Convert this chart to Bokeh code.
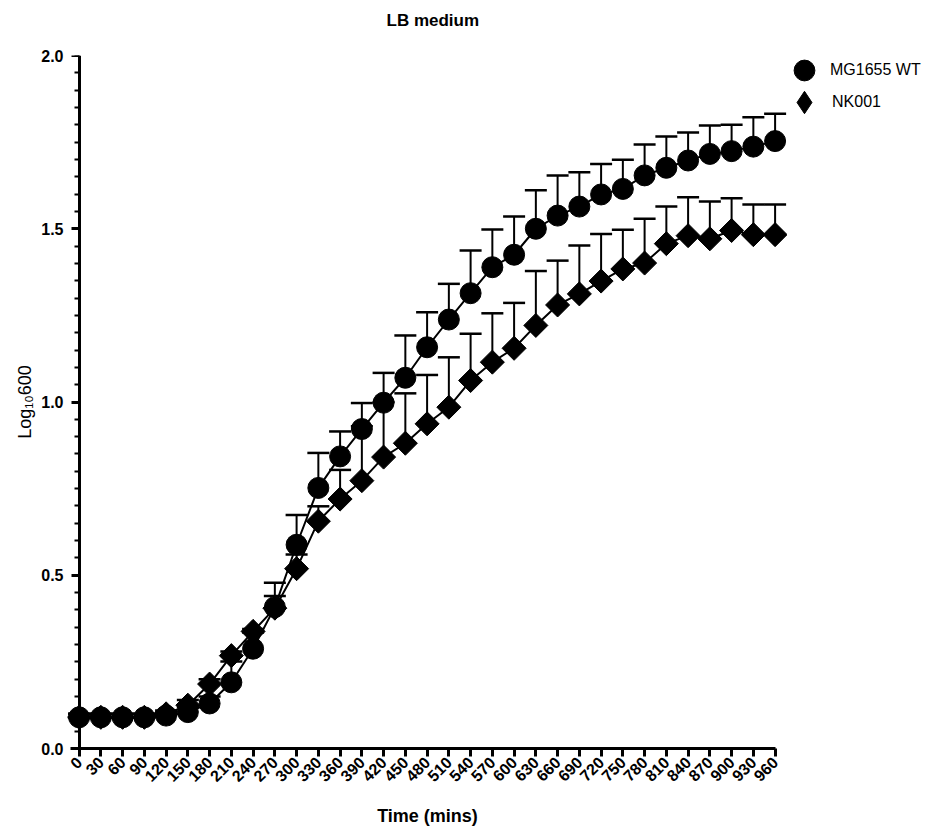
import math
from bokeh.plotting import figure
from bokeh.layouts import row
from bokeh.models import (Legend, LegendItem, FixedTicker, SingleIntervalTicker,
                          PrintfTickFormatter, LinearAxis, CustomJSTickFormatter)
from bokeh.embed import file_html
from bokeh.resources import INLINE

# ---- data ----
time_min = list(range(0, 961, 30))
wt_name = "MG1655 WT"
nk_name = "NK001"
wt_mean = [0.090, 0.090, 0.090, 0.090, 0.095, 0.105, 0.130, 0.191, 0.288, 0.408,
           0.588, 0.752, 0.843, 0.922, 0.998, 1.070, 1.158, 1.238, 1.314, 1.389,
           1.425, 1.500, 1.538, 1.564, 1.599, 1.615, 1.654, 1.676, 1.697, 1.716,
           1.724, 1.737, 1.753]
wt_sd = [0.010, 0.010, 0.010, 0.010, 0.010, 0.015, 0.020, 0.060, 0.047, 0.070,
         0.086, 0.101, 0.072, 0.075, 0.086, 0.122, 0.101, 0.103, 0.123, 0.109,
         0.110, 0.111, 0.116, 0.099, 0.088, 0.084, 0.089, 0.090, 0.081, 0.082,
         0.076, 0.085, 0.079]
nk_mean = [0.090, 0.090, 0.090, 0.090, 0.100, 0.125, 0.186, 0.268, 0.338, 0.405,
           0.519, 0.656, 0.720, 0.773, 0.841, 0.881, 0.937, 0.985, 1.062, 1.115,
           1.155, 1.221, 1.280, 1.312, 1.349, 1.384, 1.401, 1.457, 1.480, 1.471,
           1.495, 1.483, 1.483]
nk_sd = [0.010, 0.010, 0.010, 0.010, 0.010, 0.015, 0.014, 0.012, 0.007, 0.035,
         0.041, 0.043, 0.084, 0.157, 0.159, 0.144, 0.141, 0.144, 0.135, 0.141,
         0.131, 0.157, 0.128, 0.140, 0.136, 0.113, 0.128, 0.107, 0.111, 0.108,
         0.093, 0.087, 0.087]
title_text = "LB medium"
x_label = "Time (mins)"
y_label = "Log\u2081\u2080600"
x_tick_values = time_min
y_tick_interval = 0.5
y_axis_max = 2.0
x_axis_max = 960

FONT = "Liberation Sans"
FRAME_H = 693
TOP, BOTTOM = 55, 86

# ---------------- main plot ----------------
p = figure(frame_width=720, frame_height=FRAME_H, output_backend="svg",
           toolbar_location=None,
           x_range=(-16, 977.1), y_range=(0, y_axis_max),
           min_border_left=67, min_border_right=0, min_border_top=TOP,
           min_border_bottom=BOTTOM)

# title: trailing empty line lifts the visible line higher in the top border
p.title.text = title_text + "\n"
p.title.align = "left"
p.title.offset = 319
p.title.standoff = 14
p.title.text_font = FONT
p.title.text_font_size = "17px"
p.title.text_font_style = "bold"
p.title.text_color = "black"

p.xgrid.visible = False
p.ygrid.visible = False
p.outline_line_color = None
p.background_fill_color = "white"
p.border_fill_color = "white"

# ---- x axis ----
xa = p.xaxis[0]
xa.ticker = FixedTicker(ticks=x_tick_values, minor_ticks=[])
xa.bounds = (-12, x_axis_max)
xa.axis_line_width = 3
xa.axis_line_color = "black"
xa.major_tick_line_width = 3
xa.major_tick_line_color = "black"
xa.major_tick_out = 8
xa.major_tick_in = 0
xa.major_label_orientation = math.pi / 4
xa.major_label_text_font = FONT
xa.major_label_text_font_style = "bold"
xa.major_label_text_font_size = "16px"
xa.major_label_text_color = "black"
xa.major_label_standoff = 3
xa.axis_label = x_label
xa.axis_label_text_font = FONT
xa.axis_label_text_font_size = "18px"
xa.axis_label_text_font_style = "bold"
xa.axis_label_text_color = "black"
xa.axis_label_standoff = 16

# ---- y axis: labels beside the frame edge ----
ya = p.yaxis[0]
ya.ticker = SingleIntervalTicker(interval=y_tick_interval, num_minor_ticks=10)
ya.formatter = PrintfTickFormatter(format="%.1f")
ya.bounds = (0, y_axis_max)
ya.axis_line_color = None
ya.major_tick_line_color = None
ya.minor_tick_line_color = None
ya.major_tick_out = 0
ya.major_tick_in = 0
ya.minor_tick_out = 0
ya.minor_tick_in = 0
ya.major_label_text_font = FONT
ya.major_label_text_font_style = "bold"
ya.major_label_text_font_size = "16px"
ya.major_label_text_color = "black"
ya.major_label_standoff = 4
ya.axis_label = y_label
ya.axis_label_text_font = FONT
ya.axis_label_text_font_size = "18px"
ya.axis_label_text_font_style = "normal"
ya.axis_label_text_color = "black"
ya.axis_label_standoff = 3

# ---- y axis line and ticks drawn at x = 0 ----
ya2 = LinearAxis(fixed_location=0,
                 ticker=SingleIntervalTicker(interval=y_tick_interval, num_minor_ticks=10),
                 formatter=CustomJSTickFormatter(code="return ''"))
ya2.bounds = (0, y_axis_max)
ya2.axis_line_width = 3
ya2.axis_line_color = "black"
ya2.major_tick_line_width = 3
ya2.major_tick_line_color = "black"
ya2.major_tick_out = 8
ya2.major_tick_in = 0
ya2.minor_tick_line_width = 2
ya2.minor_tick_line_color = "black"
ya2.minor_tick_out = 5
ya2.minor_tick_in = 0
ya2.major_label_standoff = 0
ya2.major_label_text_font_size = "1px"
p.add_layout(ya2, "left")

wt_up = [m + s for m, s in zip(wt_mean, wt_sd)]
nk_up = [m + s for m, s in zip(nk_mean, nk_sd)]

# connecting lines
p.line(time_min, nk_mean, line_width=2, line_color="black")
p.line(time_min, wt_mean, line_width=2, line_color="black")

# error bars (upper only)
p.segment(time_min, nk_mean, time_min, nk_up, line_width=2, line_color="black")
p.scatter(time_min, nk_up, marker="dash", size=22, line_width=2.5, line_color="black")
p.segment(time_min, wt_mean, time_min, wt_up, line_width=2, line_color="black")
p.scatter(time_min, wt_up, marker="dash", size=22, line_width=2.5, line_color="black")

p.scatter(time_min, nk_mean, marker="square", angle=math.pi / 4, size=17,
          fill_color="black", line_color="black")
p.scatter(time_min, wt_mean, marker="circle", size=21,
          fill_color="black", line_color="black")

# ---------------- legend panel (right of the plot) ----------------
q = figure(frame_width=157, frame_height=FRAME_H, output_backend="svg",
           toolbar_location=None,
           x_range=(0, 1), y_range=(0, 1), x_axis_type=None, y_axis_type=None,
           min_border_left=0, min_border_right=0, min_border_top=TOP,
           min_border_bottom=BOTTOM)
q.xgrid.visible = False
q.ygrid.visible = False
q.outline_line_color = None
q.background_fill_color = "white"
q.border_fill_color = "white"

nan = float("nan")
k_wt = q.scatter([nan], [nan], marker="circle", size=21,
                 fill_color="black", line_color="black")
k_nk = q.scatter([nan], [nan], marker="diamond", size=21,
                 fill_color="black", line_color="black")

legend_style = dict(border_line_color=None, background_fill_alpha=0,
                    label_text_font=FONT, label_text_font_size="16px",
                    label_text_color="black", padding=0, margin=0)
q.add_layout(Legend(items=[LegendItem(label=wt_name, renderers=[k_wt])],
                    location=(-9, 652), glyph_width=52, glyph_height=52,
                    label_standoff=-10, **legend_style))
q.add_layout(Legend(items=[LegendItem(label=nk_name, renderers=[k_nk])],
                    location=(-11, 618), glyph_width=56, glyph_height=56,
                    label_standoff=-14, **legend_style))

layout = row(p, q)
open("out.html", "w").write(file_html(layout, INLINE))
